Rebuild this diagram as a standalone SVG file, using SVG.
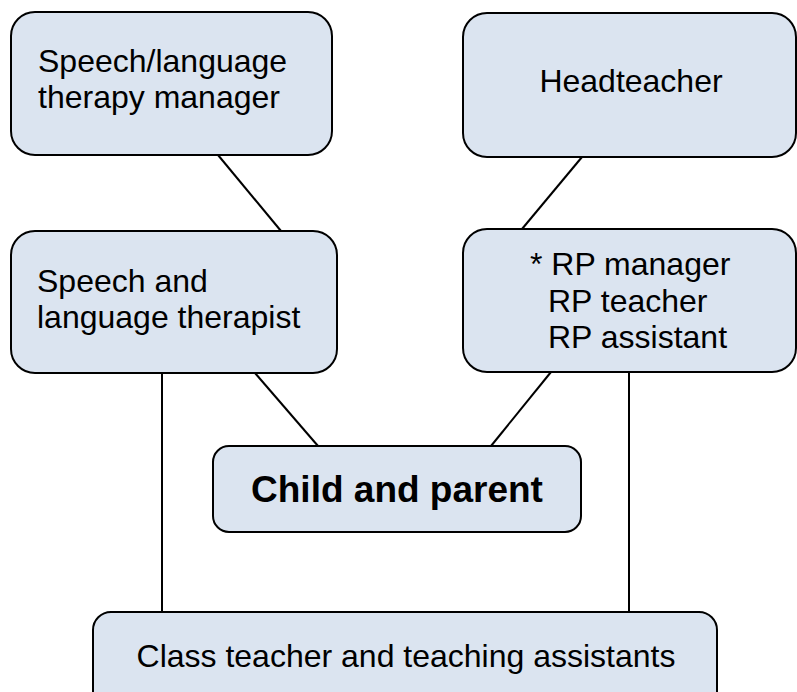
<svg xmlns="http://www.w3.org/2000/svg" width="797" height="692" viewBox="0 0 797 692">
<style>
.box{fill:#dbe4f0;stroke:#000;stroke-width:2}
.t{font-family:"Liberation Sans",Arial,sans-serif;font-size:32px;fill:#000}
.b{font-weight:bold;font-size:37px}
.c{stroke:#000;stroke-width:2;fill:none}
</style>
<rect width="797" height="692" fill="#fff"/>
<g id="connectors">
<line class="c" x1="218" y1="155" x2="281" y2="231"/>
<line class="c" x1="582" y1="157" x2="522" y2="229"/>
<line class="c" x1="255" y1="373" x2="318" y2="446"/>
<line class="c" x1="551" y1="372" x2="491" y2="446"/>
<line class="c" x1="162" y1="373" x2="162" y2="612"/>
<line class="c" x1="629" y1="372" x2="629" y2="612"/>
</g>
<g id="slt-manager">
<rect class="box" x="11" y="12" width="321" height="143" rx="24"/>
<text class="t" x="38" y="72">Speech/language</text>
<text class="t" x="38" y="108">therapy manager</text>
</g>
<g id="headteacher">
<rect class="box" x="463" y="13" width="333" height="144" rx="24"/>
<text class="t" x="631" y="92" text-anchor="middle">Headteacher</text>
</g>
<g id="therapist">
<rect class="box" x="11" y="231" width="326" height="142" rx="24"/>
<text class="t" x="37" y="292">Speech and</text>
<text class="t" x="37" y="328">language therapist</text>
</g>
<g id="rp">
<rect class="box" x="463" y="229" width="333" height="143" rx="24"/>
<text class="t" x="530" y="275">* RP manager</text>
<text class="t" x="548" y="312">RP teacher</text>
<text class="t" x="548" y="348">RP assistant</text>
</g>
<g id="child">
<rect class="box" x="213" y="446" width="368" height="86" rx="16"/>
<text class="t b" x="397" y="502" text-anchor="middle">Child and parent</text>
</g>
<g id="class-teacher">
<rect class="box" x="93" y="612" width="624" height="100" rx="18"/>
<text class="t" x="406" y="667" text-anchor="middle">Class teacher and teaching assistants</text>
</g>
</svg>
